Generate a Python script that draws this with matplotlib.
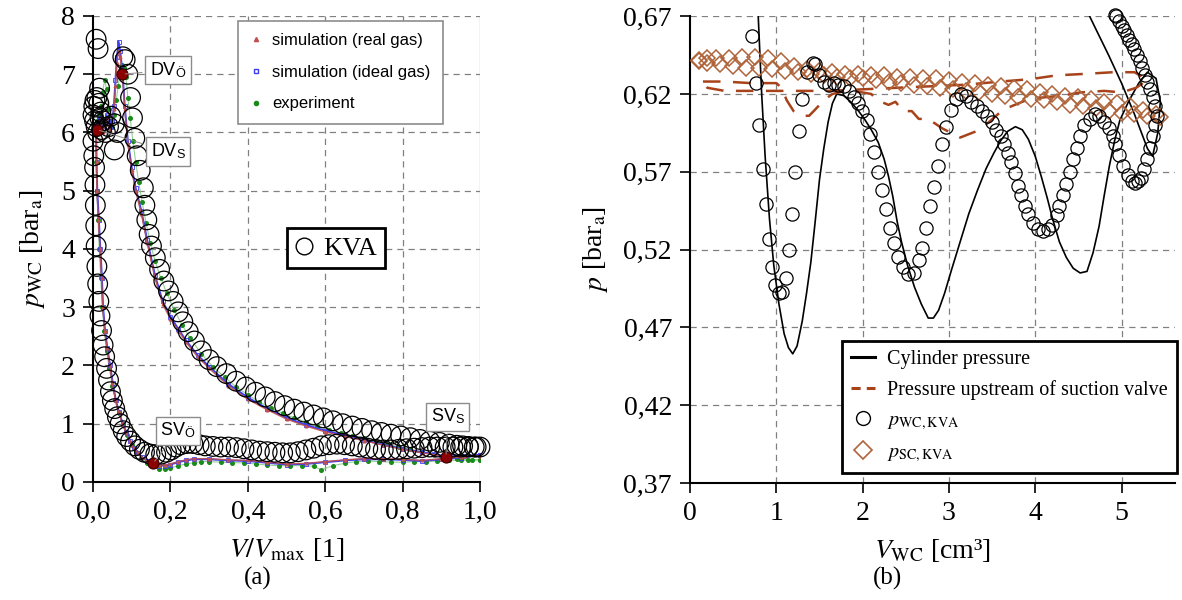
import matplotlib
matplotlib.use("Agg")
import matplotlib.pyplot as plt
from matplotlib.lines import Line2D

plt.rcParams["font.family"] = ["Liberation Serif", "DejaVu Serif"]
plt.rcParams["mathtext.fontset"] = "stix"

# ---------------- panel (a): p-V diagram ----------------
# KVA model (open circles), ordered along the cycle
kva_v = [1.0, 0.985, 0.97, 0.955, 0.94, 0.92, 0.895, 0.87, 0.845, 0.82, 0.795, 0.77, 0.745, 0.72,
         0.695, 0.67, 0.645, 0.62, 0.595, 0.57, 0.545, 0.52, 0.495, 0.47, 0.445, 0.42, 0.395, 0.37,
         0.345, 0.32, 0.3, 0.28, 0.262, 0.246, 0.232, 0.22, 0.207, 0.195, 0.183, 0.172, 0.161, 0.151,
         0.145, 0.139, 0.134, 0.13, 0.122, 0.114, 0.108, 0.102, 0.097, 0.09, 0.083, 0.077,
         0.063, 0.055, 0.055, 0.046, 0.04, 0.032, 0.025, 0.02, 0.017, 0.013, 0.008, 0.015, 0.01,
         0.005, 0.002, 0.0, 0.004, 0.008, 0.012, 0.018, 0.022,
         0.0, 0.002, 0.004, 0.005, 0.006, 0.007, 0.008, 0.01, 0.012, 0.015, 0.018, 0.022, 0.026,
         0.03, 0.035, 0.04, 0.045, 0.05, 0.056, 0.063, 0.07, 0.078, 0.087, 0.097, 0.108, 0.12,
         0.133, 0.147, 0.162, 0.177, 0.19, 0.202, 0.214, 0.227, 0.242, 0.258, 0.274, 0.29, 0.31,
         0.33, 0.35, 0.37, 0.39, 0.41, 0.43, 0.45, 0.47, 0.49, 0.51, 0.53, 0.55, 0.57, 0.59, 0.61,
         0.63, 0.65, 0.67, 0.69, 0.71, 0.73, 0.75, 0.77, 0.79, 0.81, 0.83, 0.85, 0.87, 0.89, 0.91,
         0.93, 0.95, 0.97, 0.99]
kva_p = [0.6, 0.6, 0.61, 0.62, 0.63, 0.65, 0.68, 0.7, 0.73, 0.76, 0.79, 0.82, 0.85, 0.88,
         0.92, 0.96, 1.0, 1.05, 1.1, 1.15, 1.2, 1.25, 1.31, 1.38, 1.46, 1.54, 1.63, 1.73,
         1.86, 1.98, 2.1, 2.25, 2.42, 2.58, 2.75, 2.92, 3.1, 3.28, 3.45, 3.65, 3.85, 4.05,
         4.25, 4.5, 4.75, 5.05, 5.35, 5.6, 5.9, 6.25, 6.6, 7.0, 7.25, 7.3,
         6.0, 5.7, 6.15, 6.28, 6.1, 6.0, 6.2, 6.35, 6.76, 7.44, 7.6, 6.5, 6.6,
         6.55, 6.45, 6.3, 6.2, 6.1, 6.0, 6.25, 6.05,
         5.85, 5.6, 5.4, 5.1, 4.75, 4.4, 4.05, 3.7, 3.4, 3.1, 2.85, 2.6, 2.35,
         2.15, 1.95, 1.75, 1.55, 1.4, 1.26, 1.12, 1.0, 0.88, 0.78, 0.7, 0.62, 0.56,
         0.51, 0.48, 0.47, 0.48, 0.51, 0.55, 0.6, 0.64, 0.66, 0.66, 0.64, 0.62, 0.61,
         0.6, 0.6, 0.59, 0.57, 0.55, 0.53, 0.52, 0.51, 0.5, 0.5, 0.52, 0.55, 0.58, 0.62, 0.64,
         0.65, 0.64, 0.62, 0.6, 0.58, 0.56, 0.55, 0.55, 0.56, 0.57, 0.58, 0.59, 0.6, 0.6, 0.6,
         0.6, 0.6, 0.6, 0.6]

# simulation, real gas
sim_real_v = [1.0, 0.96, 0.912, 0.88, 0.85, 0.8, 0.75, 0.7, 0.65, 0.6, 0.55, 0.5, 0.45, 0.4, 0.35,
              0.3, 0.27, 0.24, 0.22, 0.2, 0.18, 0.16, 0.14, 0.125, 0.11, 0.1, 0.09, 0.082, 0.076,
              0.07, 0.066, 0.062, 0.058, 0.054, 0.05, 0.045, 0.04, 0.035, 0.03, 0.025, 0.02, 0.015,
              0.01, 0.008,
              0.009, 0.01, 0.014, 0.018, 0.022, 0.025, 0.03, 0.036, 0.043, 0.05, 0.058, 0.066,
              0.076, 0.085, 0.095, 0.105, 0.115, 0.125, 0.14, 0.155,
              0.17, 0.185, 0.2, 0.22, 0.24, 0.26, 0.3, 0.35, 0.4, 0.45, 0.5, 0.55, 0.6, 0.65, 0.7,
              0.75, 0.8, 0.85, 0.9, 0.95, 1.0]
sim_real_p = [0.45, 0.44, 0.43, 0.47, 0.5, 0.56, 0.63, 0.71, 0.78, 0.86, 0.96, 1.08, 1.24, 1.42, 1.65,
              1.95, 2.15, 2.4, 2.6, 2.8, 3.05, 3.5, 4.1, 4.6, 5.0, 5.35, 5.8, 6.4, 7.0,
              7.3, 7.4, 7.2, 6.8, 6.4, 6.15, 6.05, 6.1, 6.25, 6.15, 6.0, 6.1, 6.2,
              6.1, 6.08,
              5.5, 5.0, 4.5, 4.0, 3.5, 3.0, 2.6, 2.3, 2.0, 1.7, 1.4, 1.2,
              1.0, 0.85, 0.7, 0.58, 0.5, 0.43, 0.36, 0.32,
              0.29, 0.29, 0.31, 0.35, 0.38, 0.4, 0.4, 0.38, 0.37, 0.34, 0.31, 0.32, 0.35, 0.38, 0.4,
              0.4, 0.39, 0.37, 0.4, 0.43, 0.45]

# simulation, ideal gas
sim_ideal_v = [1.0, 0.96, 0.912, 0.88, 0.85, 0.8, 0.75, 0.7, 0.65, 0.6, 0.55, 0.5, 0.45, 0.4, 0.35,
               0.3, 0.27, 0.24, 0.22, 0.2, 0.18, 0.16, 0.14, 0.125, 0.11, 0.1, 0.09, 0.082, 0.076,
               0.07, 0.066, 0.062, 0.058, 0.054, 0.05, 0.045, 0.04, 0.035, 0.03, 0.025, 0.02, 0.015,
               0.01, 0.008,
               0.009, 0.011, 0.015, 0.019, 0.023, 0.026, 0.031, 0.037, 0.044, 0.051, 0.059, 0.067,
               0.077, 0.086, 0.096, 0.106, 0.116, 0.126, 0.141, 0.156,
               0.17, 0.185, 0.2, 0.22, 0.24, 0.26, 0.3, 0.35, 0.4, 0.45, 0.5, 0.55, 0.6, 0.65, 0.7,
               0.75, 0.8, 0.85, 0.9, 0.95, 1.0]
sim_ideal_p = [0.46, 0.45, 0.44, 0.48, 0.51, 0.57, 0.64, 0.72, 0.8, 0.88, 0.98, 1.1, 1.26, 1.45, 1.68,
               1.98, 2.18, 2.43, 2.63, 2.84, 3.1, 3.55, 4.15, 4.65, 5.05, 5.4, 5.85, 6.45, 7.05,
               7.4, 7.56, 7.3, 6.9, 6.45, 6.2, 6.1, 6.15, 6.3, 6.2, 6.05, 6.15, 6.25,
               6.12, 6.1,
               5.5, 5.0, 4.5, 4.0, 3.5, 3.0, 2.6, 2.3, 2.0, 1.7, 1.4, 1.2,
               1.0, 0.85, 0.7, 0.58, 0.5, 0.43, 0.36, 0.31,
               0.28, 0.28, 0.3, 0.34, 0.37, 0.39, 0.39, 0.37, 0.36, 0.33, 0.3, 0.31, 0.34, 0.37, 0.39,
               0.39, 0.38, 0.36, 0.39, 0.42, 0.46]

# experiment
exp_v = [1.0, 0.97, 0.94, 0.91, 0.88, 0.85, 0.82, 0.79, 0.76, 0.73, 0.7, 0.67, 0.64, 0.61, 0.58,
         0.55, 0.52, 0.49, 0.46, 0.43, 0.4, 0.37, 0.34, 0.31, 0.28, 0.25, 0.23, 0.21, 0.19, 0.175,
         0.16, 0.148, 0.137, 0.127, 0.118, 0.11, 0.103, 0.096, 0.09, 0.085, 0.08, 0.075, 0.07,
         0.065, 0.06, 0.055, 0.05, 0.045, 0.04, 0.035, 0.03, 0.025, 0.02, 0.015, 0.01, 0.007,
         0.008, 0.01, 0.013, 0.016, 0.02, 0.024, 0.029, 0.035, 0.042, 0.05, 0.058, 0.067, 0.077,
         0.088, 0.1, 0.112, 0.125, 0.14, 0.155, 0.17, 0.185,
         0.2, 0.22, 0.24, 0.26, 0.28, 0.3, 0.33, 0.36, 0.39, 0.42, 0.45, 0.48, 0.51, 0.54, 0.57,
         0.59, 0.62, 0.65, 0.68, 0.71, 0.74, 0.77, 0.8, 0.83, 0.86, 0.89, 0.92, 0.95, 0.98, 1.0]
exp_p = [0.38, 0.38, 0.39, 0.42, 0.46, 0.52, 0.56, 0.6, 0.65, 0.7, 0.75, 0.79, 0.84, 0.9, 0.96,
         1.03, 1.1, 1.18, 1.27, 1.37, 1.5, 1.63, 1.8, 1.98, 2.2, 2.48, 2.7, 2.95, 3.25, 3.5,
         3.8, 4.1, 4.45, 4.8, 5.15, 5.5, 5.85, 6.25, 6.6, 6.95, 7.1, 7.15, 7.05,
         6.8, 6.55, 6.3, 6.1, 6.2, 6.4, 6.75, 6.9, 6.7, 6.45, 6.3, 6.2, 6.0,
         5.5, 5.0, 4.5, 4.0, 3.5, 3.0, 2.6, 2.25, 1.95, 1.65, 1.4, 1.18, 0.98,
         0.8, 0.64, 0.52, 0.42, 0.33, 0.27, 0.23, 0.22,
         0.24, 0.28, 0.31, 0.33, 0.35, 0.35, 0.34, 0.33, 0.33, 0.31, 0.29, 0.28, 0.28, 0.28, 0.27,
         0.21, 0.28, 0.32, 0.35, 0.36, 0.35, 0.34, 0.34, 0.35, 0.35, 0.36, 0.37, 0.37, 0.38, 0.38]

# valve events: DV open, DV shut, SV open, SV shut
event_labels = ["DV$_{\\mathregular{Ö}}$", "DV$_{\\mathregular{S}}$",
                "SV$_{\\mathregular{Ö}}$", "SV$_{\\mathregular{S}}$"]
event_v = [0.076, 0.01, 0.155, 0.912]
event_p = [7.0, 6.05, 0.32, 0.43]
label_v = [0.194, 0.194, 0.22, 0.917]
label_p = [7.07, 5.67, 0.88, 1.12]

xticks_a = [0.0, 0.2, 0.4, 0.6, 0.8, 1.0]
xlabels_a = ["0,0", "0,2", "0,4", "0,6", "0,8", "1,0"]
yticks_a = [0, 1, 2, 3, 4, 5, 6, 7, 8]

# ---------------- panel (b): suction phase ----------------
cyl_v = [0.79, 0.83, 0.87, 0.92, 0.97, 1.03, 1.09, 1.14, 1.19, 1.24, 1.3, 1.35, 1.4, 1.45, 1.5,
         1.55, 1.6, 1.65, 1.7, 1.78, 1.86, 1.94, 2.02, 2.1, 2.18, 2.25, 2.3, 2.35, 2.4, 2.45,
         2.52, 2.6, 2.68, 2.76, 2.82, 2.88, 2.95, 3.03, 3.13, 3.23, 3.33, 3.43, 3.52, 3.6, 3.68,
         3.77, 3.85, 3.92, 4.0, 4.07, 4.14, 4.2, 4.28, 4.36, 4.44, 4.52, 4.6, 4.67, 4.74, 4.8,
         4.86, 4.92, 4.98, 5.08, 5.2, 5.3, 5.4, 5.45, 5.42, 5.36, 5.3, 5.15, 5.0, 4.85, 4.7, 4.63]
cyl_p = [0.67, 0.62, 0.58, 0.54, 0.51, 0.485, 0.466, 0.457, 0.453, 0.458, 0.474, 0.492, 0.512,
         0.538, 0.565, 0.585, 0.602, 0.614, 0.62, 0.619, 0.615, 0.61, 0.604, 0.597, 0.589, 0.578,
         0.567, 0.554, 0.538, 0.525, 0.51, 0.496, 0.485, 0.476, 0.476, 0.481, 0.492, 0.507, 0.525,
         0.543, 0.558, 0.572, 0.582, 0.59, 0.596, 0.599, 0.597, 0.591, 0.58, 0.567, 0.553, 0.54,
         0.525, 0.515, 0.508, 0.505, 0.506, 0.518, 0.535, 0.555, 0.574, 0.59, 0.603, 0.615, 0.627,
         0.634, 0.63, 0.615, 0.595, 0.58, 0.585, 0.607, 0.627, 0.645, 0.662, 0.67]

# pressure upstream of the suction valve (dashed)
up_v = [0.15, 0.4, 0.7, 1.0, 1.06, 1.12, 1.2, 1.3, 1.38, 1.45, 1.55, 1.65, 1.8, 2.0, 2.1, 2.17,
        2.3, 2.38, 2.47, 2.57, 2.65, 2.76, 2.92, 3.13, 3.36, 3.63, 3.94, 4.32, 4.52, 4.8, 5.0,
        5.17, 5.3, 5.15, 4.9, 4.6, 4.25, 3.94, 3.6, 3.2, 2.8, 2.4, 2.0, 1.6, 1.2, 0.8, 0.4,
        0.2, 0.15]
up_p = [0.628, 0.628, 0.627, 0.627, 0.624, 0.616, 0.609, 0.606, 0.606, 0.61, 0.616, 0.62, 0.622,
        0.621, 0.62, 0.616, 0.613, 0.615, 0.609, 0.609, 0.604, 0.604, 0.598, 0.592, 0.597, 0.61,
        0.617, 0.619, 0.621, 0.622, 0.621, 0.624, 0.629, 0.634, 0.634, 0.633, 0.632, 0.6295,
        0.628, 0.626, 0.625, 0.624, 0.623, 0.622, 0.622, 0.622, 0.622, 0.624, 0.627]

# p_WC,KVA (circles)
wc_v = [0.72, 0.76, 0.8, 0.84, 0.88, 0.91, 0.95, 0.99, 1.03, 1.07, 1.115, 1.15, 1.18, 1.22, 1.26,
        1.3, 1.36, 1.42, 1.45, 1.49, 1.55, 1.61, 1.67, 1.72, 1.78, 1.84, 1.9, 1.95, 1.99, 2.05,
        2.09, 2.13, 2.18, 2.22, 2.27, 2.32, 2.36, 2.41, 2.47, 2.53, 2.59, 2.65, 2.69, 2.74, 2.78,
        2.83, 2.87, 2.92, 2.97, 3.02, 3.08, 3.14, 3.2, 3.26, 3.32, 3.38, 3.44, 3.5, 3.55, 3.6,
        3.64, 3.68, 3.72, 3.76, 3.8, 3.84, 3.88, 3.92, 3.97, 4.03, 4.09, 4.15, 4.2, 4.25, 4.28,
        4.32, 4.36, 4.4, 4.44, 4.48, 4.52, 4.57, 4.63, 4.69, 4.74, 4.8, 4.85, 4.9, 4.93, 4.97,
        5.02, 5.07, 5.12, 5.16, 5.19, 5.22, 5.26, 5.3, 5.33, 5.37, 5.39, 5.41,
        5.39, 5.36, 5.33, 5.3, 5.27, 5.24, 5.21, 5.18, 5.15, 5.12, 5.09, 5.06, 5.03, 5.0, 4.97,
        4.94, 4.92]
wc_p = [0.657, 0.627, 0.6, 0.572, 0.549, 0.527, 0.509, 0.497, 0.492, 0.493, 0.502, 0.52, 0.543,
        0.57, 0.596, 0.617, 0.634, 0.64, 0.639, 0.632, 0.628, 0.626, 0.627, 0.626, 0.625, 0.622,
        0.618, 0.614, 0.609, 0.603, 0.594, 0.583, 0.57, 0.558, 0.546, 0.534, 0.524, 0.515, 0.509,
        0.504, 0.505, 0.513, 0.521, 0.534, 0.548, 0.56, 0.574, 0.588, 0.599, 0.61, 0.617, 0.62,
        0.619, 0.615, 0.612, 0.609, 0.606, 0.602, 0.597, 0.593, 0.588, 0.582, 0.576, 0.569, 0.561,
        0.555, 0.548, 0.543, 0.537, 0.533, 0.532, 0.533, 0.536, 0.542, 0.548, 0.555, 0.562, 0.57,
        0.578, 0.585, 0.593, 0.6, 0.604, 0.607, 0.606, 0.602, 0.598, 0.593, 0.588, 0.581, 0.574,
        0.568, 0.564, 0.563, 0.564, 0.566, 0.572, 0.578, 0.585, 0.593, 0.6, 0.606,
        0.612, 0.618, 0.623, 0.628, 0.632, 0.637, 0.641, 0.645, 0.649, 0.652, 0.655, 0.658, 0.661,
        0.664, 0.667, 0.67, 0.671]

# p_SC,KVA (diamonds)
sc_v = [0.1, 0.2, 0.3, 0.45, 0.6, 0.75, 0.9, 1.05, 1.2, 1.35, 1.5, 1.65, 1.8, 1.95, 2.1, 2.25, 2.4,
        2.55, 2.7, 2.85, 3.0, 3.15, 3.3, 3.45, 3.6, 3.75, 3.9, 4.05, 4.2, 4.35, 4.5, 4.65, 4.8,
        4.95, 5.1, 5.25, 5.4,
        5.45, 5.3, 5.15, 5.0, 4.85, 4.7, 4.55, 4.4, 4.25, 4.1, 3.95, 3.8, 3.65, 3.5, 3.35, 3.2,
        3.05, 2.9, 2.75, 2.6, 2.45, 2.3, 2.15, 2.0, 1.85, 1.7, 1.55, 1.4, 1.25, 1.1, 0.95, 0.8,
        0.65, 0.5, 0.35, 0.2, 0.1]
sc_p = [0.642, 0.643, 0.643, 0.643, 0.644, 0.644, 0.643, 0.641, 0.638, 0.636, 0.635, 0.634, 0.633,
        0.633, 0.632, 0.632, 0.631, 0.631, 0.63, 0.63, 0.629, 0.628, 0.627, 0.626, 0.625, 0.624,
        0.623, 0.621, 0.62, 0.619, 0.618, 0.617, 0.615, 0.614, 0.612, 0.61, 0.607,
        0.605, 0.606, 0.607, 0.608, 0.609, 0.611, 0.612, 0.613, 0.615, 0.616, 0.617, 0.618, 0.619,
        0.62, 0.621, 0.622, 0.623, 0.624, 0.625, 0.626, 0.627, 0.628, 0.629, 0.63, 0.63, 0.631,
        0.632, 0.633, 0.634, 0.635, 0.636, 0.637, 0.637, 0.638, 0.639, 0.64, 0.641]

xticks_b = [0, 1, 2, 3, 4, 5]
yticks_b = [0.37, 0.42, 0.47, 0.52, 0.57, 0.62, 0.67]
ylabels_b = ["0,37", "0,42", "0,47", "0,52", "0,57", "0,62", "0,67"]

RED = "#c0504d"
BLUE = "#3c3cf0"
GREEN = "#1a8a1a"
BROWN = "#b0643a"
DASH = "#a8421a"
GRID = dict(color="#808080", linestyle=(0, (5, 4)), linewidth=0.9)

fig = plt.figure(figsize=(11.82, 6), dpi=100)

# ---------- (a) ----------
ax1 = fig.add_axes([0.0787, 0.1967, 0.3274, 0.7767])
ax1.set_xlim(0, 1.0)
ax1.set_ylim(0, 8)
for y in yticks_a[1:]:
    ax1.axhline(y, zorder=0, **GRID)
for x in xticks_a[1:-1]:
    ax1.axvline(x, zorder=0, **GRID)
ax1.axvline(1.0, color="#a0a0a0", linewidth=0.9, zorder=0)

ax1.plot(exp_v, exp_p, color="#7cc47c", linewidth=0.8, alpha=0.8, zorder=2)
ax1.plot(exp_v, exp_p, linestyle="none", marker="o", ms=2.6, color=GREEN, zorder=2)
ax1.plot(sim_ideal_v, sim_ideal_p, color=BLUE, linewidth=1.4, marker="s", ms=2.2,
         mfc="none", mec=BLUE, mew=0.6, zorder=3)
ax1.plot(sim_real_v, sim_real_p, color=RED, linewidth=1.0, marker="^", ms=2.0,
         mec=RED, zorder=4, alpha=0.9)
ax1.scatter(kva_v, kva_p, s=200, facecolors="none", edgecolors="black", linewidths=0.9,
            zorder=5, clip_on=False)
ax1.plot(event_v, event_p, linestyle="none", marker="o", ms=8, mfc="#8b0000", mec="#3a0000",
         mew=0.8, zorder=6)
for lab, ev, ep, lv, lp in zip(event_labels, event_v, event_p, label_v, label_p):
    ax1.annotate(lab, xy=(ev, ep), xytext=(lv, lp), ha="center", va="center", fontsize=13,
                 family=["Liberation Sans", "DejaVu Sans"], zorder=7,
                 bbox=dict(boxstyle="square,pad=0.25", fc="white", ec="#8c8c8c", lw=1.0),
                 arrowprops=dict(arrowstyle="-", color="#8c8c8c", lw=0.7))

leg_handles = [Line2D([], [], ls="none", marker="^", ms=3, color=RED),
               Line2D([], [], ls="none", marker="s", ms=3, mfc="none", mec=BLUE),
               Line2D([], [], ls="none", marker="o", ms=3, color=GREEN)]
leg1 = ax1.legend(leg_handles, ["simulation (real gas)", "simulation (ideal gas)", "experiment"],
                  loc="upper left", bbox_to_anchor=(0.375, 0.99), borderaxespad=0,
                  frameon=True, fancybox=False,
                  edgecolor="#8c8c8c", framealpha=1, handlelength=0.6, handletextpad=0.7,
                  labelspacing=1.0, borderpad=0.75,
                  prop={"family": ["Liberation Sans"], "size": 12})
leg1.get_frame().set_linewidth(1.2)
ax1.add_artist(leg1)
leg_kva = ax1.legend([Line2D([], [], ls="none", marker="o", ms=12, mfc="none", mec="black",
                             mew=1.0)], ["KVA"], loc="center", bbox_to_anchor=(0.628, 0.502),
                     borderaxespad=0, frameon=True, fancybox=False, edgecolor="black",
                     framealpha=1, handlelength=0.7, handletextpad=0.4, borderpad=0.3,
                     fontsize=19)
leg_kva.get_frame().set_linewidth(2.0)

ax1.set_xticks(xticks_a)
ax1.set_xticklabels(xlabels_a)
ax1.set_yticks(yticks_a)
ax1.tick_params(labelsize=20, direction="out", length=7, width=1.2, pad=6)
for side in ("top", "right"):
    ax1.spines[side].set_visible(False)
ax1.spines["left"].set_linewidth(1.5)
ax1.spines["bottom"].set_linewidth(1.5)
ax1.set_xlabel(r"$V/V_{\mathrm{max}}$ [1]", fontsize=20, labelpad=8)
ax1.set_ylabel(r"$p_{\mathrm{WC}}$ [bar$_{\mathrm{a}}$]", fontsize=20, labelpad=10)

# ---------- (b) ----------
ax2 = fig.add_axes([0.5838, 0.195, 0.4103, 0.778])
ax2.set_xlim(0, 5.62)
ax2.set_ylim(0.37, 0.67)
for y in yticks_b[1:]:
    ax2.axhline(y, zorder=0, **GRID)
for x in xticks_b[1:]:
    ax2.axvline(x, zorder=0, **GRID)

ax2.plot(cyl_v, cyl_p, color="black", linewidth=1.2, zorder=3)
ax2.plot(up_v, up_p, color=DASH, linewidth=1.8, linestyle=(0, (7, 5)), zorder=3)
ax2.plot(sc_v, sc_p, linestyle="none", marker="D", ms=8.5, mfc="none", mec=BROWN, mew=1.1,
         zorder=4)
ax2.plot(wc_v, wc_p, linestyle="none", marker="o", ms=9.5, mfc="none", mec="black", mew=0.9,
         zorder=5, clip_on=False)

leg2_handles = [Line2D([], [], color="black", lw=2.2),
                Line2D([], [], color=DASH, lw=2.2, linestyle=(0, (3, 2))),
                Line2D([], [], ls="none", marker="o", ms=10, mfc="none", mec="black"),
                Line2D([], [], ls="none", marker="D", ms=9, mfc="none", mec=BROWN, mew=1.2)]
leg2 = ax2.legend(leg2_handles, ["Cylinder pressure", "Pressure upstream of suction valve",
                                 r"$p_{\mathrm{WC,KVA}}$", r"$p_{\mathrm{SC,KVA}}$"],
                  loc="lower left", bbox_to_anchor=(0.313, 0.022), borderaxespad=0,
                  frameon=True, fancybox=False,
                  edgecolor="black", framealpha=1, handlelength=1.2, handletextpad=0.6,
                  labelspacing=0.55, borderpad=0.45, fontsize=14.5)
leg2.get_frame().set_linewidth(2.0)
leg2.set_zorder(10)

ax2.set_xticks(xticks_b)
ax2.set_yticks(yticks_b)
ax2.set_yticklabels(ylabels_b)
ax2.tick_params(labelsize=20, direction="out", length=7, width=1.2, pad=6)
for side in ("top", "right"):
    ax2.spines[side].set_visible(False)
ax2.spines["left"].set_linewidth(1.5)
ax2.spines["bottom"].set_linewidth(1.5)
ax2.set_xlabel(r"$V_{\mathrm{WC}}$ [cm³]", fontsize=20, labelpad=8)
ax2.set_ylabel(r"$p$ [bar$_{\mathrm{a}}$]", fontsize=20, labelpad=10)

fig.text(258 / 1182, 1 - 578 / 600, "(a)", fontsize=18, ha="center", va="center")
fig.text(888 / 1182, 1 - 578 / 600, "(b)", fontsize=18, ha="center", va="center")

fig.savefig("out.png", dpi=100)
